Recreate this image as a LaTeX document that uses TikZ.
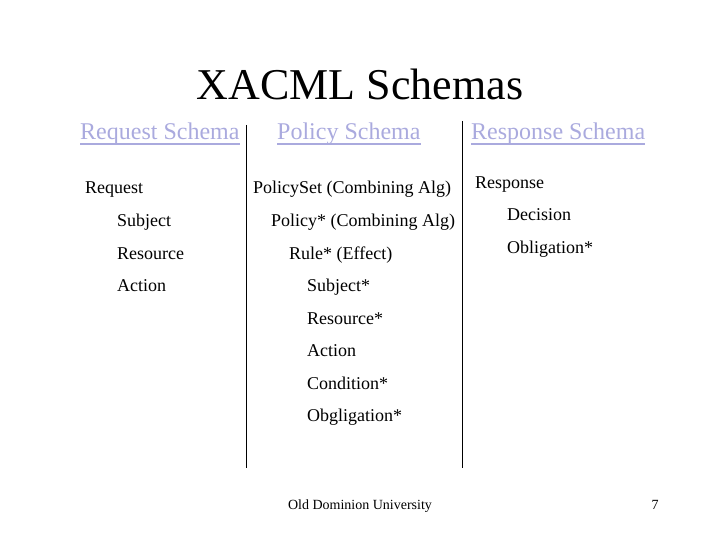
\documentclass[tikz,border=0pt]{standalone}
\usepackage{fontspec}
\setmainfont{Liberation Serif}
\definecolor{hdrblue}{RGB}{170,170,222}
\begin{document}
\begin{tikzpicture}[x=1pt,y=-1pt,
  txt/.style={anchor=base west,inner sep=0pt,font=\fontsize{18}{20}\selectfont},
  hdr/.style={anchor=base west,inner sep=0pt,text=hdrblue,font=\fontsize{24}{26}\selectfont},
  uline/.style={draw=hdrblue,line width=1.1pt},
  sep/.style={draw=black,line width=0.9pt},
  foot/.style={anchor=base,inner sep=0pt,font=\fontsize{14}{16}\selectfont}]
\useasboundingbox (0,0) rectangle (720,540);
% title
\node[anchor=base,inner sep=0pt,font=\fontsize{44}{48}\selectfont] (title) at (360,100) {XACML Schemas};
% headers
\node[hdr] (h1) at (80,140) {Request Schema};
\node[hdr] (h2) at (277,140) {Policy Schema};
\node[hdr] (h3) at (471,140) {Response Schema};
\foreach \h in {h1,h2,h3}{
  \draw[uline] ([yshift=-4pt]\h.base west) -- ([yshift=-4pt]\h.base east);
}
% separators
\coordinate (s1t) at (246,125); \coordinate (s1b) at (246,468);
\coordinate (s2t) at (462,121); \coordinate (s2b) at (462,468);
\draw[sep] (s1t) -- (s1b);
\draw[sep] (s2t) -- (s2b);
% request column
\node[txt] (rq) at (85,194) {Request};
\node[txt] (rqs) at (117,226.5) {Subject};
\node[txt] (rqr) at (117,259) {Resource};
\node[txt] (rqa) at (117,291.5) {Action};
% policy column
\node[txt] (ps) at (253,194) {PolicySet (Combining Alg)};
\node[txt] (po) at (271,226.5) {Policy* (Combining Alg)};
\node[txt] (ru) at (289,259) {Rule* (Effect)};
\node[txt] (su) at (307,291.5) {Subject*};
\node[txt] (re) at (307,324) {Resource*};
\node[txt] (ac) at (307,356.5) {Action};
\node[txt] (co) at (307,389) {Condition*};
\node[txt] (ob) at (307,421.5) {Obgligation*};
% response column
\node[txt] (rs) at (475,189) {Response};
\node[txt] (de) at (507,221) {Decision};
\node[txt] (rob) at (507,253.5) {Obligation*};
% footer
\node[foot] (ft) at (360,509) {Old Dominion University};
\node[foot] (num) at (655,509) {7};
\end{tikzpicture}
\end{document}
